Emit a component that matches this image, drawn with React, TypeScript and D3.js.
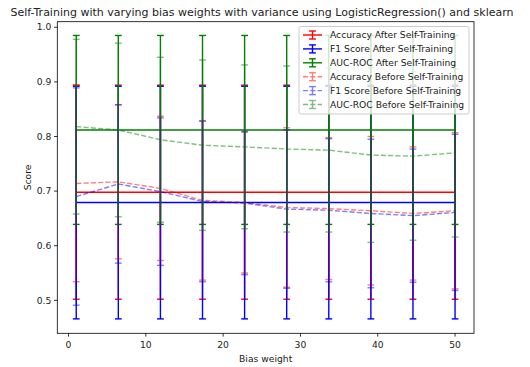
import * as d3 from "d3"

// bias weights (x positions)
const biasWeights = [1, 6.444, 11.889, 17.333, 22.778, 28.222, 33.667, 39.111, 44.556, 50]

// after self-training (constant)
const accAfter = [0.698, 0.698, 0.698, 0.698, 0.698, 0.698, 0.698, 0.698, 0.698, 0.698]
const accAfterErr = [0.196, 0.196, 0.196, 0.196, 0.196, 0.196, 0.196, 0.196, 0.196, 0.196]
const f1After = [0.679, 0.679, 0.679, 0.679, 0.679, 0.679, 0.679, 0.679, 0.679, 0.679]
const f1AfterErr = [0.213, 0.213, 0.213, 0.213, 0.213, 0.213, 0.213, 0.213, 0.213, 0.213]
const aucAfter = [0.812, 0.812, 0.812, 0.812, 0.812, 0.812, 0.812, 0.812, 0.812, 0.812]
const aucAfterErr = [0.173, 0.173, 0.173, 0.173, 0.173, 0.173, 0.173, 0.173, 0.173, 0.173]

// before self-training
const accBefore = [0.714, 0.717, 0.705, 0.683, 0.679, 0.67, 0.668, 0.664, 0.659, 0.664]
const accBeforeErr = [0.18, 0.141, 0.132, 0.146, 0.129, 0.146, 0.13, 0.136, 0.122, 0.143]
const f1Before = [0.69, 0.713, 0.699, 0.681, 0.678, 0.667, 0.665, 0.659, 0.655, 0.661]
const f1BeforeErr = [0.199, 0.145, 0.135, 0.147, 0.131, 0.145, 0.131, 0.136, 0.122, 0.143]
const aucBefore = [0.818, 0.812, 0.794, 0.784, 0.781, 0.777, 0.775, 0.766, 0.764, 0.77]
const aucBeforeErr = [0.16, 0.159, 0.151, 0.156, 0.15, 0.152, 0.15, 0.16, 0.154, 0.154]

const yTicks = [0.5, 0.6, 0.7, 0.8, 0.9, 1.0]
const xTicks = [0, 10, 20, 30, 40, 50]

const series = [
  { name: "Accuracy After Self-Training", vals: accAfter, err: accAfterErr, color: "#ff0000", dashed: false },
  { name: "F1 Score After Self-Training", vals: f1After, err: f1AfterErr, color: "#0000ff", dashed: false },
  { name: "AUC-ROC After Self-Training", vals: aucAfter, err: aucAfterErr, color: "#008000", dashed: false },
  { name: "Accuracy Before Self-Training", vals: accBefore, err: accBeforeErr, color: "#ff0000", dashed: true },
  { name: "F1 Score Before Self-Training", vals: f1Before, err: f1BeforeErr, color: "#0000ff", dashed: true },
  { name: "AUC-ROC Before Self-Training", vals: aucBefore, err: aucBeforeErr, color: "#008000", dashed: true },
]

const W = 530
const H = 367
const font = "DejaVu Sans, sans-serif"
const fs = 9.2

export default function App() {
  const left = 57.3
  const right = 474
  const top = 21.7
  const bottom = 333.3

  const x = d3.scaleLinear().domain([-1.45, 52.45]).range([left, right])
  const y = d3.scaleLinear().domain([0.4396, 1.0102]).range([bottom, top])

  const line = d3
    .line<number>()
    .x((_, i) => x(biasWeights[i]))
    .y((d) => y(d))

  const cap = 3.4
  const lw = 1.4
  const dash = "5.1,2.2"

  // legend
  const lgX = 299
  const lgY = 26.5
  const lgW = 170
  const lgH = 87.5
  const rowH = 13.9

  return (
    <svg width={W} height={H} style={{ position: "absolute", left: 0, top: 0, background: "#fff" }} fontFamily={font}>
      <rect x={0} y={0} width={W} height={H} fill="#fff" />

      {/* series */}
      {series.map((s, si) => (
        <g key={si} opacity={s.dashed ? 0.5 : 1}>
          {s.vals.map((v, i) => {
            const cx = x(biasWeights[i])
            const y1 = y(v + s.err[i])
            const y2 = y(v - s.err[i])
            return (
              <g key={i} stroke={s.color} strokeWidth={lw}>
                <line x1={cx} x2={cx} y1={y1} y2={y2} />
                <line x1={cx - cap} x2={cx + cap} y1={y1} y2={y1} />
                <line x1={cx - cap} x2={cx + cap} y1={y2} y2={y2} />
              </g>
            )
          })}
          <path
            d={line(s.vals) || ""}
            fill="none"
            stroke={s.color}
            strokeWidth={lw}
            strokeDasharray={s.dashed ? dash : undefined}
          />
        </g>
      ))}

      {/* frame */}
      <rect x={left} y={top} width={right - left} height={bottom - top} fill="none" stroke="#000" strokeWidth={0.8} />

      {/* y axis */}
      {yTicks.map((t) => (
        <g key={t}>
          <line x1={left - 3.3} x2={left} y1={y(t)} y2={y(t)} stroke="#000" strokeWidth={0.8} />
          <text x={left - 6} y={y(t)} dy="0.35em" textAnchor="end" fontSize={fs} fill="#222">
            {d3.format(".1f")(t)}
          </text>
        </g>
      ))}
      {/* x axis */}
      {xTicks.map((t) => (
        <g key={t}>
          <line x1={x(t)} x2={x(t)} y1={bottom} y2={bottom + 3.3} stroke="#000" strokeWidth={0.8} />
          <text x={x(t)} y={bottom + 15} textAnchor="middle" fontSize={fs} fill="#222">
            {t}
          </text>
        </g>
      ))}

      <text x={(left + right) / 2} y={bottom + 29} textAnchor="middle" fontSize={fs} fill="#222">
        Bias weight
      </text>
      <text
        transform={`translate(${28},${(top + bottom) / 2}) rotate(-90)`}
        textAnchor="middle"
        dy="0.35em"
        fontSize={fs}
        fill="#222"
      >
        Score
      </text>
      <text x={262} y={15.5} textAnchor="middle" fontSize={11} fill="#222">
        Self-Training with varying bias weights with variance using LogisticRegression() and sklearn
      </text>

      {/* legend */}
      <rect x={lgX} y={lgY} width={lgW} height={lgH} rx={2} fill="#fff" fillOpacity={0.8} stroke="#cccccc" strokeWidth={1} />
      {series.map((s, i) => {
        const cy = lgY + 8.5 + i * rowH
        const hx = lgX + 4
        return (
          <g key={i}>
            <g stroke={s.color} strokeWidth={lw} opacity={s.dashed ? 0.5 : 1}>
              <line x1={hx} x2={hx + 19} y1={cy} y2={cy} strokeDasharray={s.dashed ? dash : undefined} />
              <line x1={hx + 9.5} x2={hx + 9.5} y1={cy - 4} y2={cy + 4} />
              <line x1={hx + 9.5 - cap} x2={hx + 9.5 + cap} y1={cy - 4} y2={cy - 4} />
              <line x1={hx + 9.5 - cap} x2={hx + 9.5 + cap} y1={cy + 4} y2={cy + 4} />
            </g>
            <text x={hx + 27} y={cy} dy="0.35em" fontSize={fs} fill="#222">
              {s.name}
            </text>
          </g>
        )
      })}
    </svg>
  )
}
